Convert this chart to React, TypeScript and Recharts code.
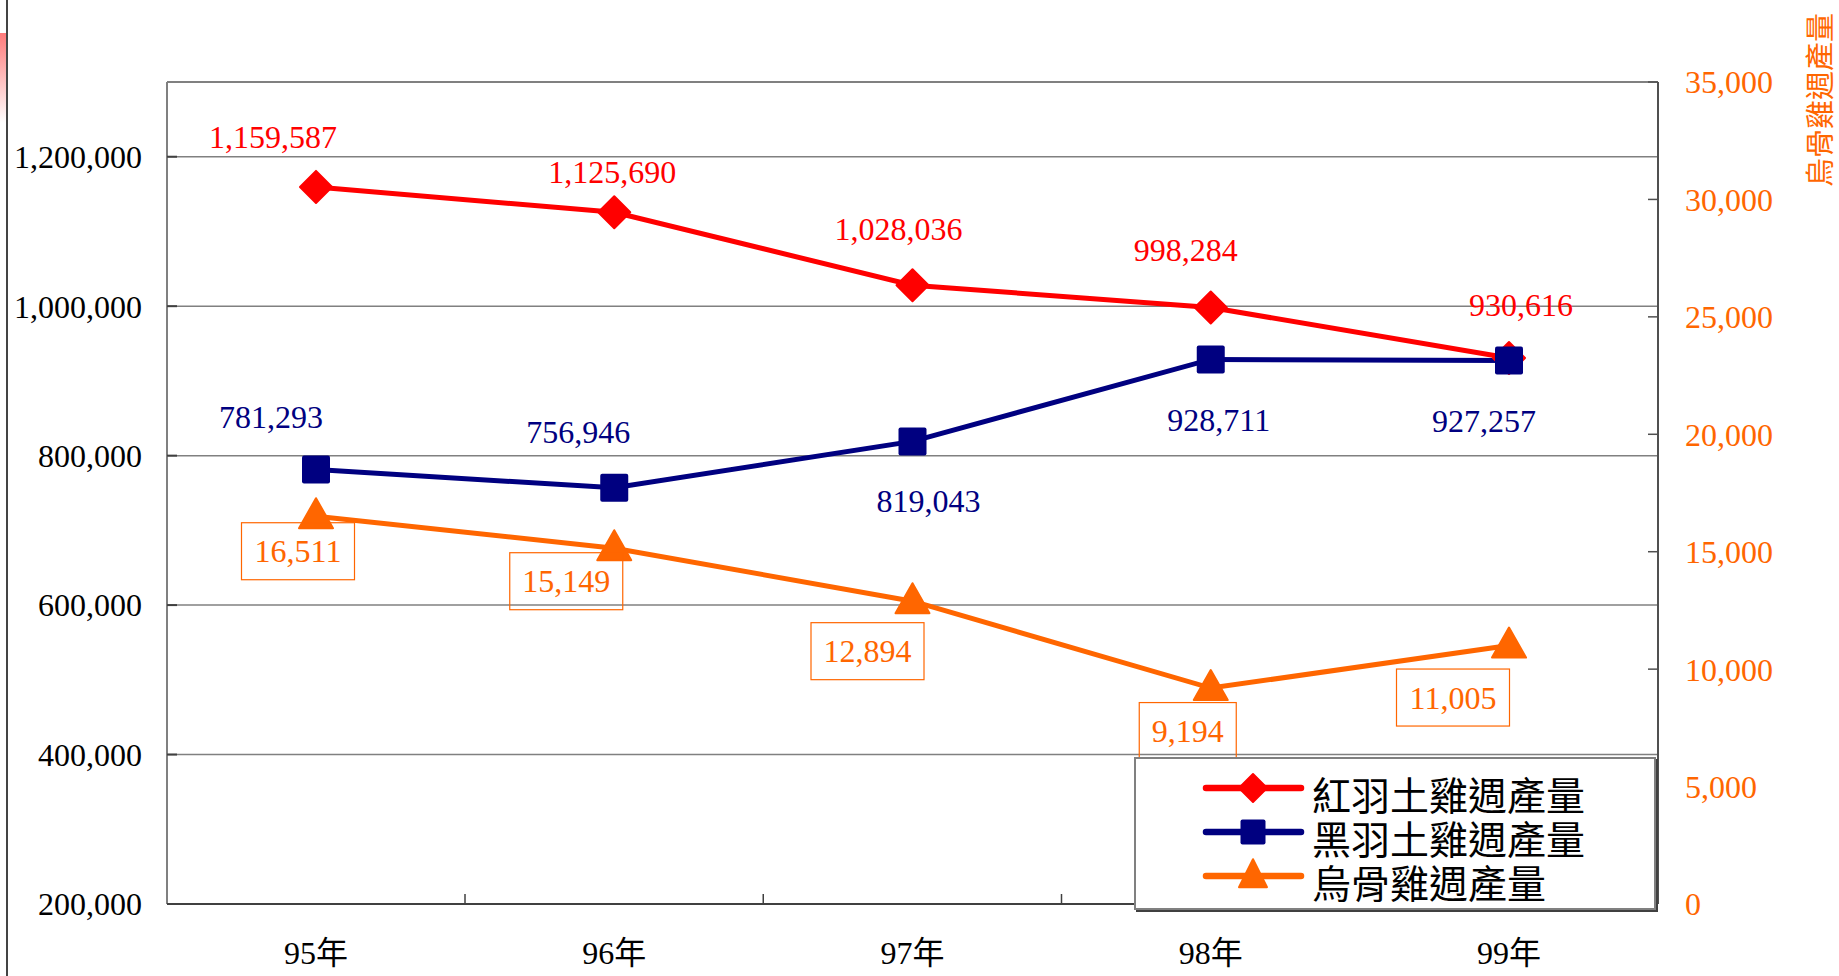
import React from 'react';
import { LineChart, Line, XAxis, YAxis, CartesianGrid, Legend, LabelList, ReferenceLine, Label } from 'recharts';

const years = ['95年', '96年', '97年', '98年', '99年'];
const redFeather = [1159587, 1125690, 1028036, 998284, 930616];
const blackFeather = [781293, 756946, 819043, 928711, 927257];
const silkie = [16511, 15149, 12894, 9194, 11005];
const leftTicks = [200000, 400000, 600000, 800000, 1000000, 1200000];
const rightTicks = [0, 5000, 10000, 15000, 20000, 25000, 30000, 35000];

// label centre offsets from each point (hand-placed in the original)
const redShift = [[-43, -50], [-2, -40], [-14, -56], [-25, -57], [12, -53]];
const blackShift = [[-45, -53], [-36, -56], [16, 60], [8, 61], [-25, 60]];
const silkieShift = [[-18, 35], [-48, 33], [-45, 50], [-23, 43], [-56, 52]];

const legendOrder = ['red', 'black', 'silkie'];

const data = years.map((year, i) => ({
  year,
  red: redFeather[i],
  black: blackFeather[i],
  silkie: silkie[i],
}));

const SERIF = '"Liberation Serif", "Noto Sans CJK TC", serif';
const CJK = '"Noto Sans CJK TC", "Liberation Serif", sans-serif';
const RED = '#FF0000';
const NAVY = '#000080';
const ORANGE = '#FF6600';
const HALF_BAND = 149;

const fmt = (v: number) => v.toLocaleString('en-US');

const Diamond = ({ cx, cy, r = 16, fill = RED }: any) => (
  <polygon points={`${cx},${cy - r} ${cx + r},${cy} ${cx},${cy + r} ${cx - r},${cy}`} fill={fill} stroke={fill} strokeLinejoin="round" strokeWidth={2} />
);
const Square = ({ cx, cy, s = 28, fill = NAVY }: any) => (
  <rect x={cx - s / 2} y={cy - s / 2} width={s} height={s} rx={2} fill={fill} />
);
const Triangle = ({ cx, cy, w = 34, h = 30, fill = ORANGE }: any) => (
  <polygon points={`${cx},${cy - h * 0.6} ${cx + w / 2},${cy + h * 0.4} ${cx - w / 2},${cy + h * 0.4}`} fill={fill} stroke={fill} strokeLinejoin="round" strokeWidth={2} />
);

const redDot = (p: any) => <Diamond key={`r-${p.index}`} cx={p.cx} cy={p.cy} />;
const blackDot = (p: any) => <Square key={`b-${p.index}`} cx={p.cx} cy={p.cy} />;
const silkieDot = (p: any) => <Triangle key={`s-${p.index}`} cx={p.cx} cy={p.cy} />;

const makeLabel = (shift: number[][], color: string) => (p: any) => {
  const [dx, dy] = shift[p.index] || [0, 0];
  return (
    <text x={p.x + dx} y={p.y + dy} textAnchor="middle" dominantBaseline="central" fill={color} fontSize={32} fontFamily={SERIF}>
      {fmt(p.value)}
    </text>
  );
};

const silkieLabel = (p: any) => {
  const [dx, dy] = silkieShift[p.index] || [0, 0];
  const s = fmt(p.value);
  const commas = (s.match(/,/g) || []).length;
  const w = (s.length - commas) * 16 + commas * 8 + 25;
  const h = 57;
  const cx = p.x + dx;
  const cy = p.y + dy;
  return (
    <g>
      <rect x={cx - w / 2} y={cy - h / 2} width={w} height={h} fill="none" stroke={ORANGE} strokeWidth={1.2} />
      <text x={cx} y={cy} textAnchor="middle" dominantBaseline="central" fill={ORANGE} fontSize={32} fontFamily={SERIF}>
        {s}
      </text>
    </g>
  );
};

const XTick = (p: any) => {
  const { x, y, payload, index } = p;
  return (
    <g>
      <text x={x} y={y + 49} textAnchor="middle" dominantBaseline="central" fill="#000" fontSize={32} fontFamily={SERIF}>
        {payload.value}
      </text>
      {index < years.length - 1 && (
        <line x1={x + HALF_BAND} x2={x + HALF_BAND} y1={y - 10} y2={y} stroke="#404040" strokeWidth={1.5} />
      )}
    </g>
  );
};

const RightTitle = (p: any) => {
  const vb = p.viewBox || { x: 1658, y: 82 };
  const tx = vb.x + 160;
  const ty = vb.y + 18;
  return (
    <text x={tx} y={ty} transform={`rotate(-90 ${tx} ${ty})`} textAnchor="middle" dominantBaseline="central" fill={ORANGE} fontSize={29} fontFamily={CJK}>
      烏骨雞週產量
    </text>
  );
};

const markerFor = (key: string, cx: number, cy: number) => {
  if (key === 'red') return <Diamond cx={cx} cy={cy} r={14} />;
  if (key === 'black') return <Square cx={cx} cy={cy} s={25} />;
  return <Triangle cx={cx} cy={cy} w={28} h={28} />;
};

const renderLegend = (props: any) => {
  const payload = [...(props.payload || [])].sort(
    (a: any, b: any) => legendOrder.indexOf(a.dataKey) - legendOrder.indexOf(b.dataKey)
  );
  const rows = [31, 75, 119];
  return (
    <div style={{ width: 522, height: 153, boxSizing: 'border-box', border: '2px solid #808080', boxShadow: '2px 2px 0 #404040', background: '#fff' }}>
      <svg width={518} height={149} style={{ display: 'block' }}>
        {payload.map((entry: any, i: number) => {
          const cy = rows[i] - 2;
          return (
            <g key={entry.dataKey}>
              <line x1={70} x2={165} y1={cy} y2={cy} stroke={entry.color} strokeWidth={6.5} strokeLinecap="round" />
              {markerFor(entry.dataKey, 117, cy)}
              <text x={176} y={cy + 5} dominantBaseline="central" fill="#000" fontSize={39} fontFamily={CJK}>
                {entry.value}
              </text>
            </g>
          );
        })}
      </svg>
    </div>
  );
};

export default function App() {
  return (
    <div style={{ position: 'absolute', left: 0, top: 0, width: 1839, height: 976, background: '#fff', overflow: 'hidden' }}>
      <div style={{ position: 'absolute', left: 0, top: 33, width: 6, height: 90, background: 'linear-gradient(#ff7a7a, #ffffff)' }} />
      <div style={{ position: 'absolute', left: 6, top: 0, width: 2, height: 976, background: '#444' }} />
      <LineChart width={1839} height={976} data={data} margin={{ top: 82, right: 0, bottom: 0, left: 0 }}>
        <CartesianGrid yAxisId="left" vertical={false} stroke="#808080" strokeWidth={1.5} />
        <XAxis
          dataKey="year"
          padding={{ left: HALF_BAND, right: HALF_BAND }}
          height={72}
          interval={0}
          tickSize={0}
          tickMargin={0}
          tickLine={false}
          tick={XTick}
          axisLine={{ stroke: '#404040', strokeWidth: 2 }}
        />
        <YAxis
          yAxisId="left"
          domain={[200000, 1300000]}
          ticks={leftTicks}
          interval={0}
          width={167}
          tickFormatter={fmt}
          tickSize={-10}
          tickMargin={35}
          tick={{ fill: '#000', fontSize: 32, fontFamily: SERIF }}
          axisLine={{ stroke: '#808080', strokeWidth: 2 }}
          tickLine={{ stroke: '#404040', strokeWidth: 2 }}
        />
        <YAxis
          yAxisId="right"
          orientation="right"
          domain={[0, 35000]}
          ticks={rightTicks}
          interval={0}
          width={181}
          tickFormatter={fmt}
          tickSize={-10}
          tickMargin={37}
          tick={{ fill: ORANGE, fontSize: 32, fontFamily: SERIF, textAnchor: 'start' }}
          axisLine={{ stroke: '#505050', strokeWidth: 2 }}
          tickLine={{ stroke: '#505050', strokeWidth: 1.5 }}
        >
          <Label content={RightTitle} />
        </YAxis>
        <ReferenceLine yAxisId="left" y={1300000} stroke="#808080" strokeWidth={2} />
        <Legend
          layout="horizontal"
          verticalAlign="middle"
          align="center"
          content={renderLegend}
          wrapperStyle={{ position: 'absolute', left: 1134, top: 757, width: 522, height: 153 }}
        />
        <Line yAxisId="left" dataKey="red" name="紅羽土雞週產量" stroke={RED} strokeWidth={5} dot={redDot} activeDot={false} isAnimationActive={false}>
          <LabelList dataKey="red" content={makeLabel(redShift, RED)} />
        </Line>
        <Line yAxisId="left" dataKey="black" name="黑羽土雞週產量" stroke={NAVY} strokeWidth={5} dot={blackDot} activeDot={false} isAnimationActive={false}>
          <LabelList dataKey="black" content={makeLabel(blackShift, NAVY)} />
        </Line>
        <Line yAxisId="right" dataKey="silkie" name="烏骨雞週產量" stroke={ORANGE} strokeWidth={5} dot={silkieDot} activeDot={false} isAnimationActive={false}>
          <LabelList dataKey="silkie" content={silkieLabel} />
        </Line>
      </LineChart>
    </div>
  );
}
